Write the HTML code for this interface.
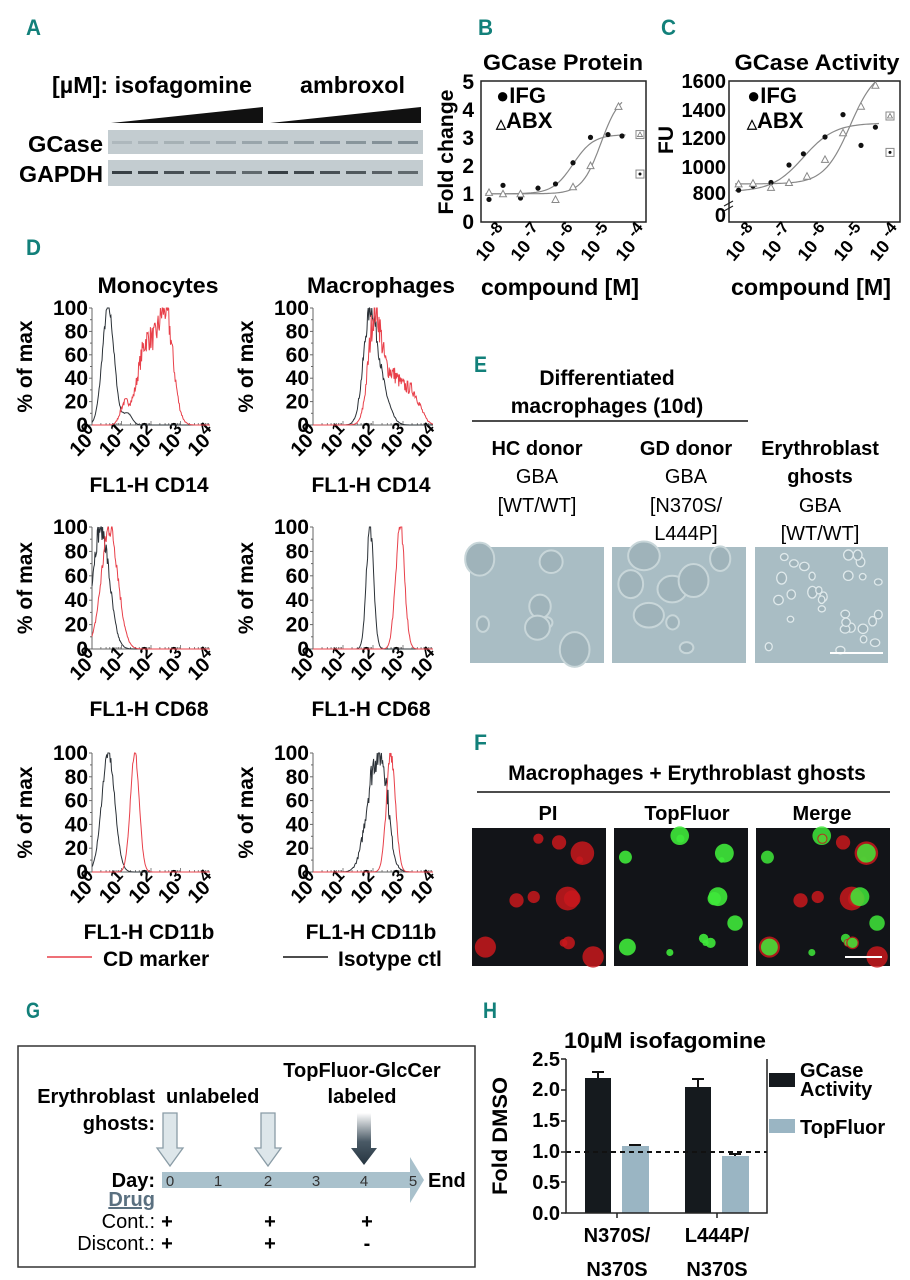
<!DOCTYPE html>
<html><head><meta charset="utf-8"><style>
html,body{margin:0;padding:0;background:#fff}
svg{display:block;font-family:"Liberation Sans",Arial,sans-serif}
.pl{fill:#12807a;font-weight:bold;font-size:22px}
.b{font-weight:bold}
</style></head><body>
<svg id="s" width="910" height="1280" viewBox="0 0 910 1280" xmlns="http://www.w3.org/2000/svg">
<rect width="910" height="1280" fill="#fff"/>
<!-- panel letters -->
<text class="pl" x="26" y="35" textLength="15" lengthAdjust="spacingAndGlyphs">A</text>
<text class="pl" x="478" y="35" textLength="15" lengthAdjust="spacingAndGlyphs">B</text>
<text class="pl" x="661" y="35" textLength="15" lengthAdjust="spacingAndGlyphs">C</text>
<text class="pl" x="26" y="255" textLength="15" lengthAdjust="spacingAndGlyphs">D</text>
<text class="pl" x="474" y="372" textLength="13" lengthAdjust="spacingAndGlyphs">E</text>
<text class="pl" x="474" y="750" textLength="13" lengthAdjust="spacingAndGlyphs">F</text>
<text class="pl" x="26" y="1018" textLength="14" lengthAdjust="spacingAndGlyphs">G</text>
<text class="pl" x="483" y="1018" textLength="14" lengthAdjust="spacingAndGlyphs">H</text>

<!-- Panel A -->
<text class="b" x="52" y="93" font-size="23" textLength="200" lengthAdjust="spacingAndGlyphs">[µM]: isofagomine</text>
<text class="b" x="300" y="93" font-size="23" textLength="105" lengthAdjust="spacingAndGlyphs">ambroxol</text>
<polygon points="111,123 263,107 263,123" fill="#111"/>
<polygon points="270,123 421,107 421,123" fill="#111"/>
<rect x="108" y="130" width="315" height="24" fill="#c3ccd0"/>
<rect x="108" y="160" width="315" height="26" fill="#c3ccd0"/>
<text class="b" x="103" y="152" font-size="23" text-anchor="end" textLength="75" lengthAdjust="spacingAndGlyphs">GCase</text>
<text class="b" x="103" y="182" font-size="23" text-anchor="end" textLength="84" lengthAdjust="spacingAndGlyphs">GAPDH</text>
<g id="bands"></g>

<!-- Panel B -->
<text class="b" x="563" y="70" font-size="22" text-anchor="middle" textLength="160" lengthAdjust="spacingAndGlyphs">GCase Protein</text>
<rect x="481" y="81" width="165" height="141" fill="none" stroke="#222" stroke-width="1.5"/>
<g class="b" font-size="21" text-anchor="end">
<text x="474" y="229">0</text><text x="474" y="201">1</text><text x="474" y="173">2</text><text x="474" y="145">3</text><text x="474" y="117">4</text><text x="474" y="89">5</text>
</g>
<text class="b" font-size="21" transform="translate(453,152) rotate(-90)" text-anchor="middle" textLength="125" lengthAdjust="spacingAndGlyphs">Fold change</text>
<text class="b" x="496" y="103" font-size="22">●IFG</text>
<text class="b" x="496" y="128" font-size="22"><tspan font-size="13">△</tspan>ABX</text>
<text class="b" x="481" y="295" font-size="23" textLength="158" lengthAdjust="spacingAndGlyphs">compound [M]</text>
<g id="gB"></g>

<!-- Panel C -->
<text class="b" x="817" y="70" font-size="22" text-anchor="middle" textLength="165" lengthAdjust="spacingAndGlyphs">GCase Activity</text>
<path d="M729,81 V222 H900 V81 Z" fill="none" stroke="#222" stroke-width="1.5"/>
<path d="M724,206 l9,-5 M724,211 l9,-5" stroke="#222" stroke-width="1.2"/>
<g class="b" font-size="20" text-anchor="end">
<text x="726" y="88">1600</text><text x="726" y="117">1400</text><text x="726" y="145">1200</text><text x="726" y="174">1000</text><text x="726" y="200">800</text><text x="726" y="222">0</text>
</g>
<text class="b" font-size="21" transform="translate(673,140) rotate(-90)" text-anchor="middle">FU</text>
<text class="b" x="747" y="103" font-size="22">●IFG</text>
<text class="b" x="747" y="128" font-size="22"><tspan font-size="13">△</tspan>ABX</text>
<text class="b" x="731" y="295" font-size="23" textLength="160" lengthAdjust="spacingAndGlyphs">compound [M]</text>
<g id="gC"></g>

<!-- Panel D -->
<text class="b" x="158" y="293" font-size="22" text-anchor="middle" textLength="121" lengthAdjust="spacingAndGlyphs">Monocytes</text>
<text class="b" x="381" y="293" font-size="22" text-anchor="middle" textLength="148" lengthAdjust="spacingAndGlyphs">Macrophages</text>
<g id="gD"></g>
<line x1="47" y1="957" x2="92" y2="957" stroke="#e8404a" stroke-width="1.5"/>
<text class="b" x="103" y="966" font-size="21">CD marker</text>
<line x1="283" y1="957" x2="328" y2="957" stroke="#111" stroke-width="1.5"/>
<text class="b" x="338" y="966" font-size="21">Isotype ctl</text>

<!-- Panel E -->
<text class="b" x="607" y="385" font-size="21" text-anchor="middle">Differentiated</text>
<text class="b" x="607" y="413" font-size="21" text-anchor="middle">macrophages (10d)</text>
<line x1="472" y1="421" x2="748" y2="421" stroke="#111" stroke-width="1.5"/>
<g font-size="20" text-anchor="middle">
<text class="b" x="537" y="455">HC donor</text><text x="537" y="483">GBA</text><text x="537" y="512">[WT/WT]</text>
<text class="b" x="686" y="455">GD donor</text><text x="686" y="483">GBA</text><text x="686" y="512">[N370S/</text><text x="686" y="540">L444P]</text>
<text class="b" x="820" y="455">Erythroblast</text><text class="b" x="820" y="483">ghosts</text><text x="820" y="512">GBA</text><text x="820" y="540">[WT/WT]</text>
</g>
<g id="gE"></g>

<!-- Panel F -->
<text class="b" x="687" y="780" font-size="21" text-anchor="middle">Macrophages + Erythroblast ghosts</text>
<line x1="477" y1="792" x2="890" y2="792" stroke="#111" stroke-width="1.5"/>
<g class="b" font-size="20" text-anchor="middle">
<text x="548" y="820">PI</text><text x="687" y="820">TopFluor</text><text x="822" y="820">Merge</text>
</g>
<g id="gF"></g>

<!-- Panel G -->
<rect x="18" y="1046" width="457" height="221" fill="none" stroke="#333" stroke-width="1.5"/>
<text class="b" x="362" y="1077" font-size="20" text-anchor="middle">TopFluor-GlcCer</text>
<text class="b" x="362" y="1103" font-size="20" text-anchor="middle">labeled</text>
<text class="b" x="155" y="1103" font-size="20" text-anchor="end">Erythroblast</text>
<text class="b" x="155" y="1130" font-size="20" text-anchor="end">ghosts:</text>
<text class="b" x="166" y="1103" font-size="20">unlabeled</text>
<defs><linearGradient id="dg" x1="0" y1="0" x2="0" y2="1"><stop offset="0" stop-color="#fff"/><stop offset="0.55" stop-color="#4a5a66"/><stop offset="1" stop-color="#263440"/></linearGradient></defs>
<path d="M163,1113 H177 V1148 H183 L170,1166 L157,1148 H163 Z" fill="#dde6ea" stroke="#8a9ca6" stroke-width="1.3"/>
<path d="M261,1113 H275 V1148 H281 L268,1166 L255,1148 H261 Z" fill="#dde6ea" stroke="#8a9ca6" stroke-width="1.3"/>
<path d="M357,1113 H371 V1148 H377 L364,1165 L351,1148 H357 Z" fill="url(#dg)"/>
<path d="M162,1172 H410 V1157 L424,1180 L410,1203 V1188 H162 Z" fill="#a9c1cc"/>
<g font-size="15" text-anchor="middle" fill="#333">
<text x="170" y="1186">0</text><text x="218" y="1186">1</text><text x="268" y="1186">2</text><text x="316" y="1186">3</text><text x="364" y="1186">4</text><text x="413" y="1186">5</text>
</g>
<text class="b" x="155" y="1187" font-size="20" text-anchor="end">Day:</text>
<text class="b" x="428" y="1187" font-size="20">End</text>
<text class="b" x="155" y="1206" font-size="20" text-anchor="end" fill="#5a7080" text-decoration="underline">Drug</text>
<text x="155" y="1228" font-size="20" text-anchor="end">Cont.:</text>
<text x="155" y="1250" font-size="20" text-anchor="end">Discont.:</text>
<g class="b" font-size="20" text-anchor="middle">
<text x="167" y="1228">+</text><text x="270" y="1228">+</text><text x="367" y="1228">+</text>
<text x="167" y="1250">+</text><text x="270" y="1250">+</text><text x="367" y="1250">-</text>
</g>

<!-- Panel H -->
<text class="b" x="665" y="1048" font-size="22" text-anchor="middle" textLength="202" lengthAdjust="spacingAndGlyphs">10µM isofagomine</text>
<g class="b" font-size="20" text-anchor="end">
<text x="560" y="1220">0.0</text><text x="560" y="1189">0.5</text><text x="560" y="1158">1.0</text><text x="560" y="1127">1.5</text><text x="560" y="1096">2.0</text><text x="560" y="1066">2.5</text>
</g>
<text class="b" font-size="21" transform="translate(507,1136) rotate(-90)" text-anchor="middle" textLength="118" lengthAdjust="spacingAndGlyphs">Fold DMSO</text>
<rect x="585" y="1078" width="26" height="135" fill="#151a1e"/>
<rect x="622" y="1146" width="27" height="67" fill="#9ab5c3"/>
<rect x="685" y="1087" width="26" height="126" fill="#151a1e"/>
<rect x="722" y="1156" width="27" height="57" fill="#9ab5c3"/>
<path d="M598,1078 V1072 M592,1072 H604 M635,1146 V1145 M629,1145 H641 M698,1087 V1079 M692,1079 H704 M735,1156 V1154 M729,1154 H741" stroke="#111" stroke-width="2"/>
<line x1="566" y1="1152" x2="767" y2="1152" stroke="#111" stroke-width="2" stroke-dasharray="5,4"/>
<path d="M566,1059 V1213 H767 V1059" fill="none" stroke="#222" stroke-width="1.5"/>
<path d="M561,1059 H566 M561,1090 H566 M561,1121 H566 M561,1152 H566 M561,1182 H566 M561,1213 H566 M617,1213 V1218 M717,1213 V1218" stroke="#222" stroke-width="1.5"/>
<g class="b" font-size="20" text-anchor="middle">
<text x="617" y="1242">N370S/</text><text x="617" y="1276">N370S</text>
<text x="717" y="1242">L444P/</text><text x="717" y="1276">N370S</text>
</g>
<rect x="769" y="1073" width="26" height="14" fill="#151a1e"/>
<rect x="769" y="1119" width="26" height="14" fill="#9ab5c3"/>
<g class="b" font-size="20"><text x="800" y="1077">GCase</text><text x="800" y="1096">Activity</text><text x="800" y="1134">TopFluor</text></g>
</svg>
<script>
(function(){
var NS="http://www.w3.org/2000/svg";
function el(p,t,a,txt){var e=document.createElementNS(NS,t);for(var k in a)e.setAttribute(k,a[k]);if(txt!=null)e.textContent=txt;p.appendChild(e);return e;}
var seed=7;function rnd(){seed=(seed*16807)%2147483647;return seed/2147483647;}
var bd=document.getElementById('bands');
for(var i=0;i<12;i++){var x=112+i*26;el(bd,'rect',{x:x,y:141,width:20,height:3,fill:'#6f7d85',opacity:(0.25+i*0.05).toFixed(2)});
el(bd,'rect',{x:x,y:171,width:20,height:3,fill:'#1e262b',opacity:(0.85-(i%6)*0.05).toFixed(2)});}
function dr(gid,X,Y,ifg,abx,fI,fA,boxes,top){
 var g=document.getElementById(gid);
 for(var k=-8;k<=-4;k++){var tx=X(k);
  var t=el(g,'text',{x:0,y:0,'font-size':'18','font-weight':'bold','text-anchor':'end',transform:'translate('+(tx+6)+',232) rotate(-50)'});
  t.appendChild(document.createTextNode('10 '));var s=el(t,'tspan',{dy:'-7','font-size':'16'},''+k);}
 var d='';for(var l=-8.5;l<=-4.5;l+=0.05){d+=(d?'L':'M')+X(l).toFixed(1)+','+Y(fI(l)).toFixed(1);}el(g,'path',{d:d,fill:'none',stroke:'#888','stroke-width':1.2});
 d='';for(var l=-8.5;l<=-4.6;l+=0.05){d+=(d?'L':'M')+X(l).toFixed(1)+','+Y(fA(l)).toFixed(1);}el(g,'path',{d:d,fill:'none',stroke:'#888','stroke-width':1.2});
 ifg.forEach(function(p){el(g,'circle',{cx:X(p[0]),cy:Y(p[1]),r:2.6,fill:'#111'});});
 abx.forEach(function(p){var x=X(p[0]),y=Y(p[1]);el(g,'polygon',{points:(x-3.5)+','+(y+3)+' '+(x+3.5)+','+(y+3)+' '+x+','+(y-3.5),fill:'#fff',stroke:'#888','stroke-width':1});});
 boxes.forEach(function(b){var x=b[0],y=Y(b[1]);el(g,'rect',{x:x-4,y:y-4,width:8,height:8,fill:'#fff',stroke:'#888','stroke-width':1});
  if(b[2])el(g,'polygon',{points:(x-2.5)+','+(y+2)+' '+(x+2.5)+','+(y+2)+' '+x+','+(y-2.5),fill:'none',stroke:'#777','stroke-width':0.8});else el(g,'circle',{cx:x,cy:y,r:1.5,fill:'#111'});});
}
function sig(b,t,e,h){return function(l){return b+(t-b)/(1+Math.pow(10,(e-l)*h));};}
dr('gB',function(l){return 503+(l+8)*35;},function(v){return 222-v*28.2;},
 [[-8.4,0.8],[-8,1.3],[-7.5,0.85],[-7,1.2],[-6.5,1.35],[-6,2.1],[-5.5,3.0],[-5,3.1],[-4.6,3.05]],
 [[-8.4,1.05],[-8,1.0],[-7.5,1.0],[-6.5,0.8],[-6,1.25],[-5.5,2.0],[-4.7,4.1]],
 sig(1,3.1,-6,1.5),sig(1,4.6,-5.2,1.6),[[640,3.1,1],[640,1.7,0]]);
dr('gC',function(l){return 753+(l+8)*36;},function(v){return 193-(v-800)*0.14;},
 [[-8.4,820],[-8,850],[-7.5,875],[-7,1000],[-6.6,1080],[-6,1200],[-5.5,1360],[-5,1140],[-4.6,1270]],
 [[-8.4,865],[-8,870],[-7.5,840],[-7,875],[-6.5,920],[-6,1040],[-5.5,1230],[-5,1420],[-4.6,1570]],
 sig(810,1300,-6.6,1.0),sig(865,1700,-5.3,1.2),[[890,1350,1],[890,1090,0]]);
var gD=document.getElementById('gD');
function G(m,s,a){return function(l){return a*Math.exp(-(l-m)*(l-m)/(2*s*s));};}
function plot(x0,y0,x1,y1,lab,curves){
 var w=x1-x0,h=y1-y0;
 el(gD,'path',{d:'M'+x0+','+y0+'V'+y1+'H'+x1,fill:'none',stroke:'#666','stroke-width':1});
 for(var v=0;v<=100;v+=10){var y=y1-h*v/100;el(gD,'line',{x1:x0-(v%20?2:3),y1:y,x2:x0,y2:y,stroke:'#666','stroke-width':1});}
 for(var v=0;v<=100;v+=20){el(gD,'text',{x:x0-4,y:y1-h*v/100+7,'font-size':'21','font-weight':'bold','text-anchor':'end'},''+v);}
 for(var k=0;k<4;k++)for(var m=1;m<10;m++){var x=x0+w*(k+Math.log10(m))/4;el(gD,'line',{x1:x,y1:y1,x2:x,y2:y1-(m==1?4:2),stroke:'#666','stroke-width':0.8});}
 for(var k=0;k<=4;k++){var x=x0+w*k/4;var t=el(gD,'text',{x:0,y:0,'font-size':'20','font-weight':'bold','text-anchor':'end',transform:'translate('+(x+8)+','+(y1+10)+') rotate(-45)'});
  t.appendChild(document.createTextNode('10'));el(t,'tspan',{dy:'-8','font-size':'17'},''+k);}
 el(gD,'text',{x:0,y:0,'font-size':'21','font-weight':'bold','text-anchor':'middle',transform:'translate('+(x0-60)+','+((y0+y1)/2)+') rotate(-90)'},'% of max');
 el(gD,'text',{x:(x0+x1)/2-2,y:y1+67,'font-size':'21','font-weight':'bold','text-anchor':'middle'},lab);
 curves.forEach(function(c){var fs=c.f,N=200,vals=[],mx=0;
  for(var i=0;i<=N;i++){var l=4*i/N,v=0;fs.forEach(function(f){v+=f(l);});vals.push(v);if(v>mx)mx=v;}
  var d='';for(var i=0;i<=N;i++){var v=vals[i]/mx;if(v>0.01)v=v*(1+(rnd()-0.5)*c.n);v=Math.min(1,Math.max(0,v));
   d+=(i?'L':'M')+(x0+w*i/N).toFixed(1)+','+(y1-h*v).toFixed(1);}
  el(gD,'path',{d:d,fill:'none',stroke:c.c,'stroke-width':1});});
}
var R='#e8404a',K='#2a3036';
plot(92,308,210,425,'FL1-H CD14',[{f:[G(0.55,0.2,1),G(1.2,0.15,0.1)],c:K,n:0.1},{f:[G(1.1,0.15,0.17),G(1.85,0.3,0.72),G(2.5,0.25,0.95)],c:R,n:0.3}]);
plot(313,308,433,425,'FL1-H CD14',[{f:[G(1.9,0.22,1),G(2.3,0.25,0.3)],c:K,n:0.2},{f:[G(2.05,0.2,0.85),G(2.6,0.4,0.45),G(3.35,0.25,0.22)],c:R,n:0.35}]);
plot(92,527,210,649,'FL1-H CD68',[{f:[G(0.3,0.28,1)],c:K,n:0.2},{f:[G(0.6,0.28,1)],c:R,n:0.2}]);
plot(313,527,433,649,'FL1-H CD68',[{f:[G(1.9,0.12,1)],c:K,n:0.15},{f:[G(2.9,0.15,1)],c:R,n:0.2}]);
plot(92,753,210,872,'FL1-H CD11b',[{f:[G(0.55,0.22,1)],c:K,n:0.1},{f:[G(1.45,0.15,1)],c:R,n:0.08}]);
plot(313,753,433,872,'FL1-H CD11b',[{f:[G(2.1,0.3,1),G(2.4,0.15,0.3)],c:K,n:0.3},{f:[G(2.6,0.15,1)],c:R,n:0.15}]);
var gE=document.getElementById('gE');
[[470,134],[612,134],[755,133]].forEach(function(p,j){el(gE,'rect',{x:p[0],y:547,width:p[1],height:116,fill:'#a9bdc4'});
 var n=j==2?30:8;for(var i=0;i<n;i++){var r=j==2?3+rnd()*2:6+rnd()*10;el(gE,'ellipse',{cx:p[0]+8+rnd()*(p[1]-16),cy:555+rnd()*100,rx:r,ry:r*(0.8+rnd()*0.5),fill:'#9fb3ba',stroke:j==2?'#dfe9eb':'#c8d6d9','stroke-width':j==2?1.3:2});}});
el(gE,'line',{x1:830,y1:653,x2:883,y2:653,stroke:'#fff','stroke-width':2});
var gF=document.getElementById('gF');
var cells=[];for(var i=0;i<18;i++)cells.push([6+rnd()*122,6+rnd()*126,3+rnd()*9,rnd()]);
[472,614,756].forEach(function(x,j){el(gF,'rect',{x:x,y:828,width:134,height:138,fill:'#121418'});
 cells.forEach(function(c){var red=c[3]<0.6,grn=c[3]>0.35;
  if(j==0&&red)el(gF,'circle',{cx:x+c[0],cy:828+c[1],r:c[2],fill:'#c8181c',opacity:0.85});
  if(j==1&&grn)el(gF,'circle',{cx:x+c[0],cy:828+c[1],r:c[2]*0.8,fill:'#3fe83a',opacity:0.9});
  if(j==2){if(red)el(gF,'circle',{cx:x+c[0],cy:828+c[1],r:c[2],fill:'#c8181c',opacity:0.85});if(grn)el(gF,'circle',{cx:x+c[0],cy:828+c[1],r:c[2]*0.8,fill:'#3fe83a',opacity:0.85});}
 });});
el(gF,'line',{x1:845,y1:957,x2:882,y2:957,stroke:'#fff','stroke-width':2});
})();
</script>
</body></html>
